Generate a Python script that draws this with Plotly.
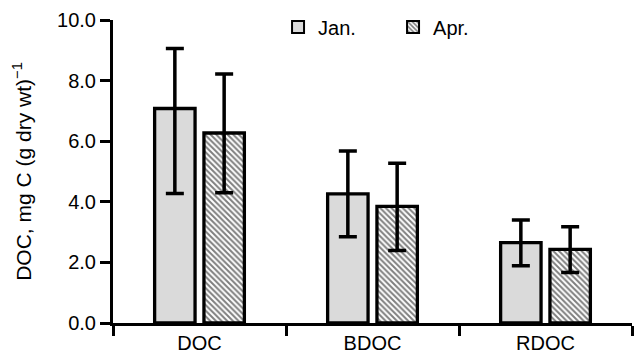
import plotly.graph_objects as go

categories = ["DOC", "BDOC", "RDOC"]
jan_values = [7.08, 4.26, 2.65]
jan_upper = [9.06, 5.68, 3.40]
jan_lower = [4.27, 2.85, 1.89]
apr_values = [6.27, 3.85, 2.43]
apr_upper = [8.22, 5.27, 3.18]
apr_lower = [4.30, 2.39, 1.67]
y_ticks = [0, 2, 4, 6, 8, 10]

FONT = "Liberation Sans, Arial, Helvetica, sans-serif"


def err(vals, up, lo):
    return dict(
        type="data",
        symmetric=False,
        array=[u - v for u, v in zip(up, vals)],
        arrayminus=[v - l for v, l in zip(vals, lo)],
        color="black",
        thickness=3.5,
        width=9,
    )


fig = go.Figure()
fig.add_trace(go.Bar(
    name="Jan.", x=categories, y=jan_values,
    marker=dict(color="#dadada", line=dict(color="black", width=3.3)),
    error_y=err(jan_values, jan_upper, jan_lower),
))
fig.add_trace(go.Bar(
    name="Apr.", x=categories, y=apr_values,
    marker=dict(color="white", line=dict(color="black", width=3.3),
                pattern=dict(shape="\\", fgcolor="black", bgcolor="white",
                             size=4, solidity=0.5)),
    error_y=err(apr_values, apr_upper, apr_lower),
))

fig.update_layout(
    width=635, height=357,
    margin=dict(l=113, r=3, t=20, b=34),
    paper_bgcolor="white", plot_bgcolor="white",
    barmode="group", bargap=0.43, bargroupgap=0.18,
    font=dict(family=FONT, size=20, color="black"),
    showlegend=True,
    legend=dict(orientation="h", x=0.318, xanchor="left", y=0.977, yanchor="middle",
                entrywidth=70, entrywidthmode="pixels",
                font=dict(size=20), bgcolor="rgba(0,0,0,0)", itemsizing="constant"),
    xaxis=dict(
        showline=True, linewidth=3, linecolor="black",
        ticks="outside", ticklen=10, tickwidth=3, tickcolor="black",
        tickson="boundaries", showgrid=False, range=[-0.5, 2.5],
        tickfont=dict(size=20),
    ),
    yaxis=dict(
        range=[0, 10], tickvals=y_ticks, tickformat=".1f",
        showline=True, linewidth=3, linecolor="black",
        ticks="outside", ticklen=10, tickwidth=3, tickcolor="black",
        showgrid=False, zeroline=False,
        tickfont=dict(size=20),
        title=dict(text="DOC, mg C (g dry wt)<sup>−1</sup>", font=dict(size=21), standoff=20),
    ),
)

fig.write_html("out.html")
